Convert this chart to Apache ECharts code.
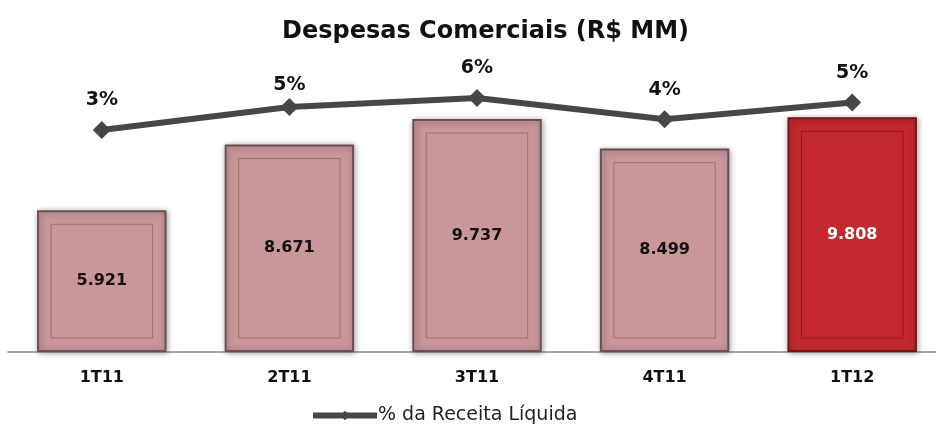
<!DOCTYPE html>
<html>
<head>
<meta charset="utf-8">
<script src="https://cdn.jsdelivr.net/npm/echarts@6/dist/echarts.min.js"></script>
<style>
html, body { margin: 0; padding: 0; background: #fff; }
#chart { width: 936px; height: 427px; }
</style>
</head>
<body>
<div id="chart"></div>
<script>
var categories = ['1T11', '2T11', '3T11', '4T11', '1T12'];
var despesas = [5.921, 8.671, 9.737, 8.499, 9.808];
var pctReceita = [3.4, 4.9, 5.5, 4.1, 5.2];

var pink = '#c9969a';
var red = '#c3282e';
var barRatio = 0.69;

var myChart = echarts.init(document.getElementById('chart'));

var barData = despesas.map(function (v, i) {
    var last = i === despesas.length - 1;
    return {
        value: v,
        itemStyle: {
            color: last ? red : pink,
            borderColor: last ? '#6e161a' : '#6a5052'
        },
        label: { color: last ? '#fff' : '#111' }
    };
});

// the 2T11 label sits a bit closer to its point in the original
var lineData = pctReceita.map(function (v, i) {
    return i === 1 ? { value: v, label: { distance: 4 } } : v;
});

var option = {
    animation: false,
    title: {
        text: 'Despesas Comerciais (R$ MM)',
        left: 277,
        top: 15,
        textStyle: {
            fontFamily: 'DejaVu Sans',
            fontWeight: 'bold',
            fontSize: 24,
            color: '#111'
        }
    },
    legend: {
        data: ['% da Receita Líquida'],
        left: 305,
        top: 401,
        itemWidth: 64,
        itemHeight: 12,
        itemGap: 4,
        lineStyle: { width: 6 },
        textStyle: {
            fontFamily: 'DejaVu Sans',
            fontSize: 19,
            color: '#222',
            padding: [0, 0, 0, -4]
        }
    },
    grid: {
        left: 8,
        top: 60,
        right: -10,
        bottom: 75,
        outerBoundsMode: 'none'
    },
    xAxis: {
        type: 'category',
        data: categories,
        axisLine: { lineStyle: { color: '#8a8a8a', width: 1.5 } },
        axisTick: { show: false },
        axisLabel: {
            margin: 18,
            fontFamily: 'DejaVu Sans',
            fontWeight: 'bold',
            fontSize: 16,
            color: '#111'
        }
    },
    yAxis: [
        { type: 'value', min: 0, max: 12.2, show: false },
        { type: 'value', min: -11.17, max: 7.99, show: false }
    ],
    series: [
        {
            type: 'bar',
            barWidth: (barRatio * 100) + '%',
            data: barData,
            itemStyle: {
                borderWidth: 2,
                shadowColor: 'rgba(0,0,0,0.35)',
                shadowBlur: 6,
                shadowOffsetX: 1,
                shadowOffsetY: 1
            },
            label: {
                show: true,
                position: 'inside',
                fontFamily: 'DejaVu Sans',
                fontWeight: 'bold',
                fontSize: 16,
                formatter: function (p) { return p.value.toFixed(3); }
            },
            z: 1
        },
        {
            type: 'custom',
            silent: true,
            data: despesas,
            z: 2,
            renderItem: function (params, api) {
                var top = api.coord([api.value(0), api.value(1)]);
                var base = api.coord([api.value(0), 0]);
                var w = api.size([1, 0])[0] * barRatio;
                var inset = 14;
                var last = params.dataIndex === despesas.length - 1;
                return {
                    type: 'rect',
                    shape: {
                        x: top[0] - w / 2 + inset,
                        y: top[1] + inset,
                        width: w - inset * 2,
                        height: base[1] - top[1] - inset * 2
                    },
                    style: {
                        fill: 'none',
                        stroke: last ? 'rgba(110,15,20,0.55)' : 'rgba(110,70,72,0.45)',
                        lineWidth: 1
                    }
                };
            }
        },
        {
            name: '% da Receita Líquida',
            type: 'line',
            yAxisIndex: 1,
            data: lineData,
            symbol: 'diamond',
            symbolSize: 18,
            lineStyle: { color: '#474747', width: 6 },
            itemStyle: { color: '#474747' },
            label: {
                show: true,
                position: 'top',
                distance: 11,
                fontFamily: 'DejaVu Sans',
                fontWeight: 'bold',
                fontSize: 19,
                color: '#111',
                formatter: function (p) { return Math.round(p.value) + '%'; }
            },
            z: 3
        }
    ]
};

myChart.setOption(option);
</script>
</body>
</html>
